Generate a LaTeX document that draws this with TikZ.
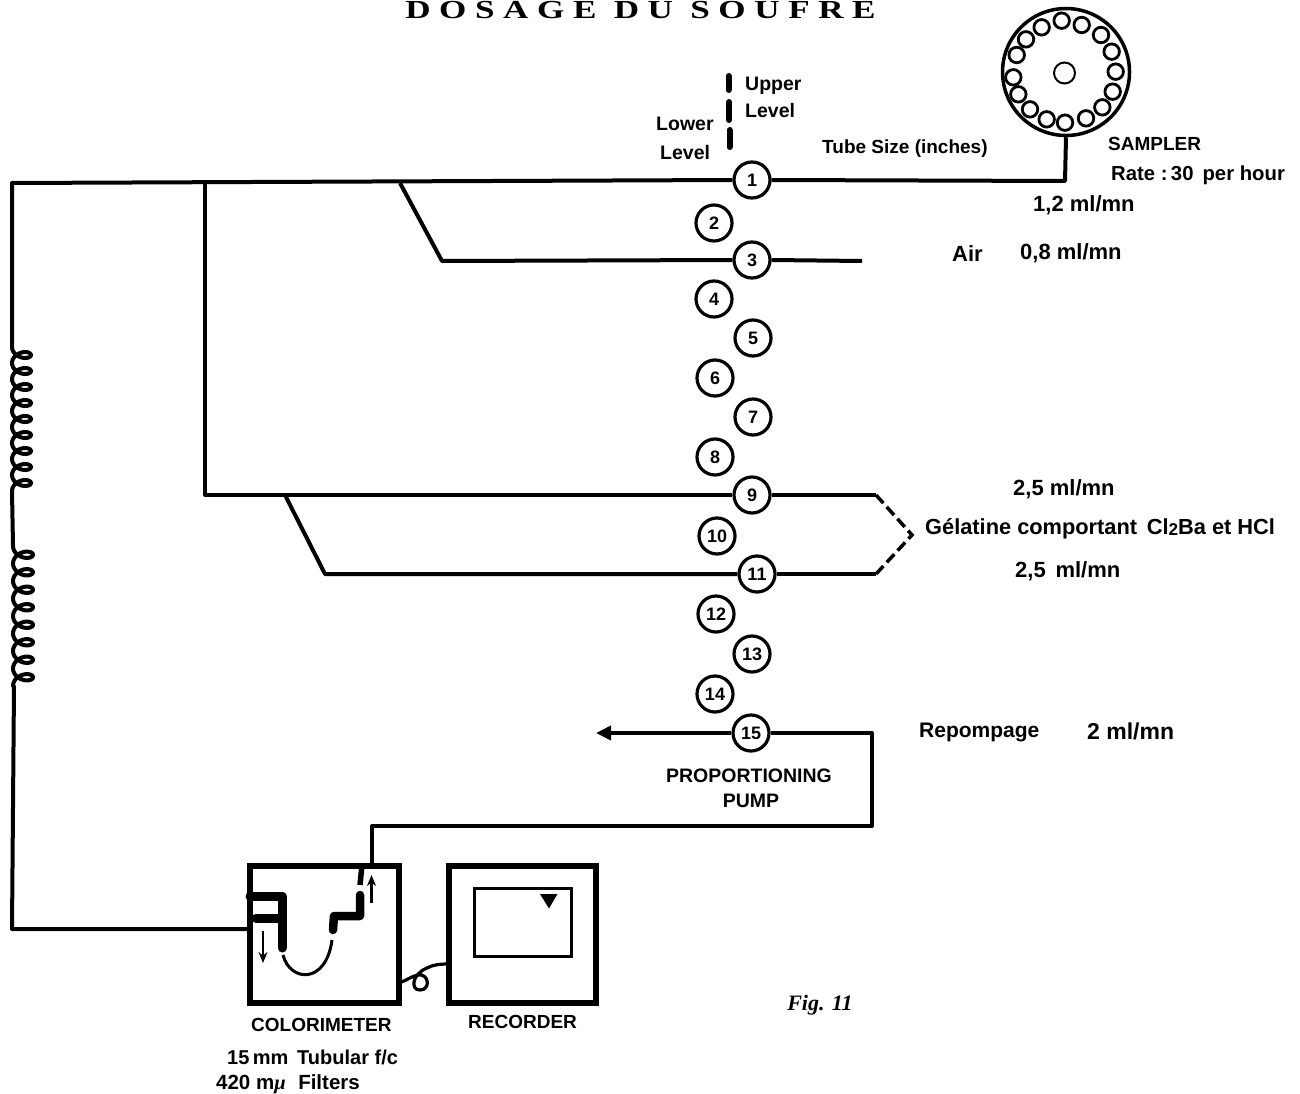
\documentclass[tikz,border=0pt]{standalone}
\usepackage{fontspec}
\setmainfont{Liberation Sans}
\newfontfamily\titlefont[LetterSpace=33,FakeStretch=1.35]{Liberation Serif}
\newfontfamily\figfont{Liberation Serif}
\usetikzlibrary{arrows.meta}
\tikzset{
  pipe/.style={line width=4pt,line join=round},
  num/.style={circle,draw,line width=3.2pt,fill=white,minimum size=36pt,inner sep=0pt,font=\fontsize{18}{18}\selectfont\bfseries},
  lab/.style={inner sep=0pt,anchor=west,font=\fontsize{19.5}{19.5}\selectfont\bfseries},
  labbig/.style={inner sep=0pt,anchor=west,font=\fontsize{22}{22}\selectfont\bfseries},
  caplab/.style={inner sep=0pt,anchor=west,font=\fontsize{19}{19}\selectfont\bfseries},
  hole/.style={circle,draw,line width=2.8pt,minimum size=15.5pt,inner sep=0pt},
  box/.style={draw,line width=5.5pt,line join=miter,inner sep=0pt},
  flowtip/.style={-{Stealth[length=11pt,width=9pt]},line width=2.2pt},
}
\begin{document}
\begin{tikzpicture}[x=1pt,y=-1pt]
\useasboundingbox[fill=white] (0,0) rectangle (1300,1094);
% title
\node[inner sep=0pt,anchor=center] (title) at (640.5,10) {\titlefont\fontsize{26}{26}\selectfont\bfseries DOSAGE DU SOUFRE};
\node[inner sep=0pt] (fig) at (820,1005) {\figfont\fontsize{22}{22}\selectfont\bfseries\itshape Fig. 11};
% pump circles
\foreach \n/\x/\y in {1/752/180,2/714/223,3/752/260,4/714/299,5/753/338,6/715/378,7/753/417,8/715/457,9/752/495,10/717/536,11/757/574,12/716/614,13/752/654,14/715/694,15/751/733}
  \node[num] (c\n) at (\x,\y) {\n};
% sampler
\node[circle,draw,line width=3.5pt,minimum size=127pt,inner sep=0pt] (sampler) at (1066,72) {};
\node[circle,draw,line width=2pt,minimum size=21pt,inner sep=0pt] (hub) at (1064.5,73) {};
\foreach \i/\x/\y in {a/305/62,b/365/75,c/423/105,d/455/155,e/467/215,f/458/275,g/427/322,h/378/355,i/315/368,j/260/358,k/210/328,l/175/283,m/160/232,n/170/165,o/198/118,p/245/82}
  \node[hole] (h\i) at ({960+\x/3},{\y/3}) {};
% level marks
\coordinate (u1) at (728.5,76); \coordinate (u2) at (728.5,90);
\coordinate (u3) at (729,102); \coordinate (u4) at (729,120);
\coordinate (u5) at (729.5,130); \coordinate (u6) at (729.5,147);
\draw[line width=6pt,line cap=round] (u1)--(u2) (u3)--(u4) (u5)--(u6);
% coordinates of the pipe network
\coordinate (corner) at (12,183);
\coordinate (coilAtop) at (12,346);
\coordinate (samplerTurn) at (1065,181);
\coordinate (junc9) at (205,183);
\coordinate (elbow9) at (205,495);
\coordinate (junc3) at (400,183);
\coordinate (elbow3) at (442,261);
\coordinate (end3) at (862,261);
\coordinate (end9) at (876,495);
\coordinate (junc11) at (285,495);
\coordinate (elbow11) at (325,574);
\coordinate (end11) at (876,574);
\coordinate (dashTip) at (912,535);
\coordinate (arrow15) at (596,733);
\coordinate (r1) at (872,733);
\coordinate (r2) at (872,826);
\coordinate (r3) at (372,826);
% boxes
\node[box,minimum width=149pt,minimum height=137pt,anchor=north west] (colo) at (247,863) {};
\node[box,minimum width=147pt,minimum height=137pt,anchor=north west] (rec) at (446,863) {};
\node[draw,line width=3pt,minimum width=97pt,minimum height=68pt,inner sep=0pt,anchor=north west] (screen) at (472.5,886.5) {};
\fill (540,894) -- (557.5,894) -- (549,908.5) -- cycle;
% pipes
\draw[pipe] (sampler.south) -- (samplerTurn) -- (c1.east);
\draw[pipe] (c1.west) -- (corner) -- (coilAtop);
\draw[pipe] (junc9) -- (elbow9) -- (c9.west);
\draw[pipe] (junc3) -- (elbow3) -- (c3.west);
\draw[pipe] (c3.east) -- (end3);
\draw[pipe] (c9.east) -- (end9);
\draw[pipe] (junc11) -- (elbow11) -- (c11.west);
\draw[pipe] (c11.east) -- (end11);
\draw[line width=3.5pt,dash pattern=on 11pt off 5pt] (end9) -- (dashTip) -- (end11);
\draw[pipe,-{Stealth[length=15pt,width=14pt,inset=0pt]}] (c15.west) -- (arrow15);
\draw[pipe] (c15.east) -- (r1) -- (r2) -- (r3) -- (r3 |- colo.north);
% coil
\coordinate (coilAend) at (12,492);
\coordinate (coilBtop) at (13,545);
\coordinate (coilBend) at (14,686);
\coordinate (leftBottom) at (12,929);
\draw[line width=4pt,line join=round] (coilAtop) -- plot[domain=0:9,samples=218,smooth,variable=\t]
  ({12+9.5*(1-cos(\t*360))},{347+16*\t+6.5*sin(\t*360)}) -- (coilAend) -- (coilBtop) --
  plot[domain=0:8,samples=194,smooth,variable=\t]
  ({13+10*(1-cos(\t*360))},{546+17.5*\t+7*sin(\t*360)}) -- (coilBend) -- (leftBottom) -- (leftBottom -| colo.west);
% colorimeter interior
\coordinate (ca) at (250,896);
\coordinate (cb) at (282,896);
\coordinate (cc) at (282,948);
\coordinate (cd) at (256,918);
\coordinate (ce) at (282,918);
\draw[line width=9pt,line join=round,line cap=round] (ca) -- (cb) -- (cc);
\draw[line width=9pt,line cap=round] (cd) -- (ce);
\coordinate (fa) at (263,931); \coordinate (fb) at (263,963);
\draw[flowtip] (fa) -- (fb);
\coordinate (ua) at (283,955); \coordinate (ub) at (332,940);
\draw[line width=3pt] (ua) .. controls (290,982) and (326,985) .. (ub);
\coordinate (ta) at (333,930); \coordinate (tb) at (334,916); \coordinate (tc) at (360,916); \coordinate (td) at (360,895);
\draw[line width=8.5pt,line join=round,line cap=round] (ta) -- (tb) -- (tc) -- (td);
\coordinate (va) at (362,865); \coordinate (vb) at (360,885);
\draw[line width=5.5pt] (va) -- (vb);
\coordinate (wa) at (371.5,903); \coordinate (wb) at (371.5,875);
\draw[flowtip] (wa) -- (wb);
% wire colorimeter -> recorder
\draw[line width=3.2pt] (colo.east |- 0,982) .. controls (407,980) and (412,976) .. (418,975)
  .. controls (429,973) and (431,990) .. (420,990)
  .. controls (410,990) and (412,974) .. (427,968)
  .. controls (432,965) and (440,964) .. (rec.west |- 0,964);
% labels
\node[lab] (upper) at (745,86) {Upper};
\node[lab] (level1) at (745,111) {Level};
\node[lab] (lower) at (656,124) {Lower};
\node[lab] (level2) at (660,153) {Level};
\node[lab,font=\fontsize{19}{19}\selectfont\bfseries] (tube) at (822,149) {Tube Size (inches)};
\node[caplab] (samplab) at (1108,144) {SAMPLER};
\node[lab,font=\fontsize{20.3}{20.3}\selectfont\bfseries] (rate) at (1111,175) {Rate :\,30\, per hour};
\node[labbig] (r12) at (1033,205) {1,2 ml/mn};
\node[labbig] (air) at (952,254) {Air};
\node[labbig] (r08) at (1020,253) {0,8 ml/mn};
\node[labbig] (r25a) at (1013,489) {2,5 ml/mn};
\node[labbig,font=\fontsize{21.8}{21.8}\selectfont\bfseries] (gel) at (925,529) {Gélatine comportant\, Cl\raisebox{-0.5pt}{\fontsize{17}{17}\selectfont 2}Ba et HCl};
\node[labbig] (r25b) at (1015,571) {2,5\, ml/mn};
\node[lab,font=\fontsize{21}{21}\selectfont\bfseries] (repo) at (919,732) {Repompage};
\node[labbig,font=\fontsize{23}{23}\selectfont\bfseries] (r2m) at (1087,731) {2 ml/mn};
\node[caplab,anchor=center,font=\fontsize{19.5}{19.5}\selectfont\bfseries] (pp1) at (749,776) {PROPORTIONING};
\node[caplab,anchor=center,font=\fontsize{19.5}{19.5}\selectfont\bfseries] (pp2) at (751,801) {PUMP};
\node[caplab] (colab) at (251,1025) {COLORIMETER};
\node[caplab] (reclab) at (468,1022) {RECORDER};
\node[lab,font=\fontsize{20}{20}\selectfont\bfseries] (tubular) at (227,1057) {15\,mm\, Tubular f/c};
\node[lab,font=\fontsize{20.5}{20.5}\selectfont\bfseries] (filters) at (216,1084) {420 m{\figfont\itshape μ}\,\, Filters};
\end{tikzpicture}
\end{document}
